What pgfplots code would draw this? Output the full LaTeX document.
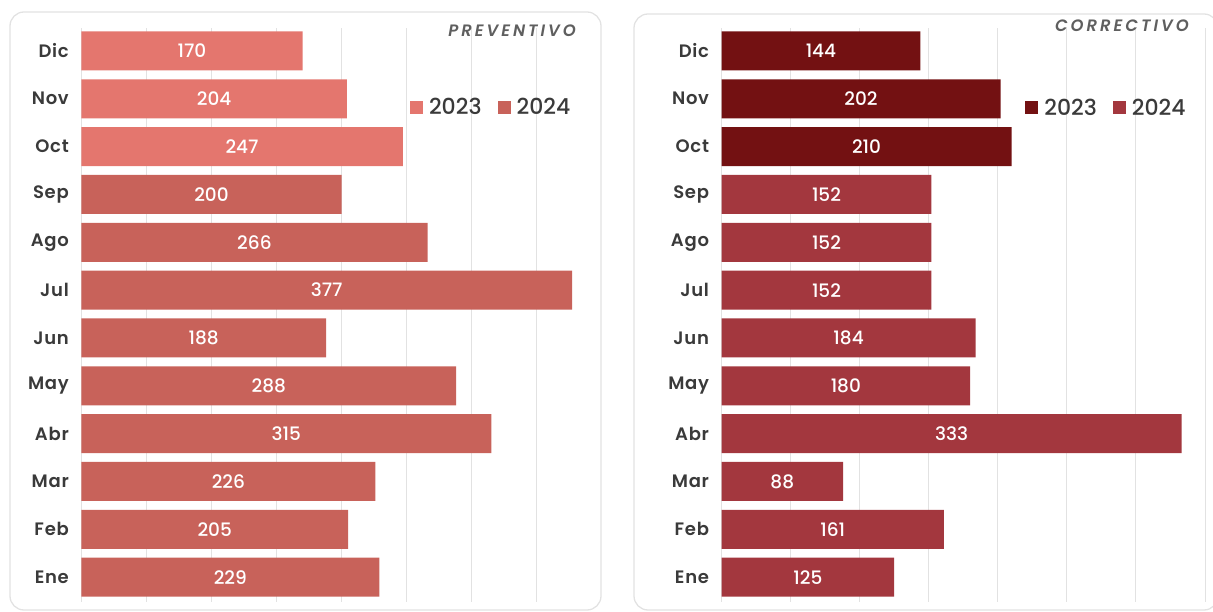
\documentclass[border=0pt]{standalone}
\usepackage{fontspec}
\setmainfont{Poppins}
\newfontfamily\pmed{Poppins Medium}
\newfontfamily\psemi{Poppins SemiBold}[LetterSpace=4]
\newfontfamily\ptitle{Poppins SemiBold Italic}[LetterSpace=18]
\usepackage{pgfplots}
\usepackage{pgfplotstable}
\pgfplotsset{compat=1.18}

\definecolor{lA}{RGB}{228,118,110}
\definecolor{lB}{RGB}{200,98,90}
\definecolor{rA}{RGB}{115,17,18}
\definecolor{rB}{RGB}{163,55,62}
\definecolor{gridc}{RGB}{226,226,226}
\definecolor{boxc}{RGB}{226,226,226}
\definecolor{txt}{RGB}{58,58,58}
\definecolor{ttl}{RGB}{95,95,95}

\pgfplotstableread{
y v
9 247
10 204
11 170
}\prevA
\pgfplotstableread{
y v
0 229
1 205
2 226
3 315
4 288
5 188
6 377
7 266
8 200
}\prevB
\pgfplotstableread{
y v
9 210
10 202
11 144
}\corrA
\pgfplotstableread{
y v
0 125
1 161
2 88
3 333
4 180
5 184
6 152
7 152
8 152
}\corrB

\pgfplotsset{panel/.style={
  scale only axis, height=574bp,
  ymin=-0.52, ymax=11.48, xmin=0,
  ytick={0,...,11},
  yticklabels={Ene,Feb,Mar,Abr,May,Jun,Jul,Ago,Sep,Oct,Nov,Dic},
  xmajorgrids, grid style={gridc, line width=0.9bp},
  xticklabels={},
  major tick length=0pt,
  axis line style={draw=none},
  yticklabel style={font=\psemi\fontsize{18bp}{18bp}\selectfont, text=txt, xshift=-9bp},
  legend style={draw=none, fill=none, inner sep=0pt,
    font=\pmed\fontsize{22bp}{22bp}\selectfont, text=txt,
    legend columns=2,
    /tikz/every even column/.append style={column sep=14bp}},
  legend cell align=left,
  legend image code/.code={\fill[##1] (0bp,-6.5bp) rectangle (13bp,6.5bp); \path (17bp,0bp);},
  clip=false,
},
vals/.style={draw=none, mark=none, forget plot, nodes near coords,
  point meta=explicit symbolic,
  every node near coord/.style={anchor=center, text=white,
    font=\pmed\fontsize{18.5bp}{18.5bp}\selectfont}},
}

\begin{document}
\begin{tikzpicture}
\useasboundingbox (0,0) rectangle (1213bp,612bp);
\draw[boxc, line width=1.3bp, rounded corners=14bp] (10bp,2bp) rectangle (601bp,600bp);
\draw[boxc, line width=1.3bp, rounded corners=14bp] (634bp,2bp) rectangle (1218bp,598bp);

\begin{axis}[panel, at={(81.3bp,10bp)}, anchor=south west,
  width=520.7bp, xmax=400, xtick={0,50,...,350},
  legend style={at={(0.631,0.862)}, anchor=west}]
\addplot[xbar, bar width=39bp, bar shift=0pt, fill=lA, draw=none] table[x=v,y=y] {\prevA};
\addlegendentry{2023}
\addplot[xbar, bar width=39bp, bar shift=0pt, fill=lB, draw=none] table[x=v,y=y] {\prevB};
\addlegendentry{2024}
\addplot[vals] table[x expr=\thisrow{v}/2, y=y, meta=v] {\prevA};
\addplot[vals] table[x expr=\thisrow{v}/2, y=y, meta=v] {\prevB};
\end{axis}

\begin{axis}[panel, at={(721.5bp,10bp)}, anchor=south west,
  width=483.5bp, xmax=350, xtick={0,50,...,350},
  legend style={at={(0.628,0.861)}, anchor=west}]
\addplot[xbar, bar width=39bp, bar shift=0pt, fill=rA, draw=none] table[x=v,y=y] {\corrA};
\addlegendentry{2023}
\addplot[xbar, bar width=39bp, bar shift=0pt, fill=rB, draw=none] table[x=v,y=y] {\corrB};
\addlegendentry{2024}
\addplot[vals] table[x expr=\thisrow{v}/2, y=y, meta=v] {\corrA};
\addplot[vals] table[x expr=\thisrow{v}/2, y=y, meta=v] {\corrB};
\end{axis}

\node[anchor=east, text=ttl, font=\ptitle\fontsize{16.5bp}{16.5bp}\selectfont, inner sep=0pt] at (576bp,581bp) {PREVENTIVO};
\node[anchor=east, text=ttl, font=\ptitle\fontsize{16.5bp}{16.5bp}\selectfont, inner sep=0pt] at (1189bp,586bp) {CORRECTIVO};
\end{tikzpicture}
\end{document}
